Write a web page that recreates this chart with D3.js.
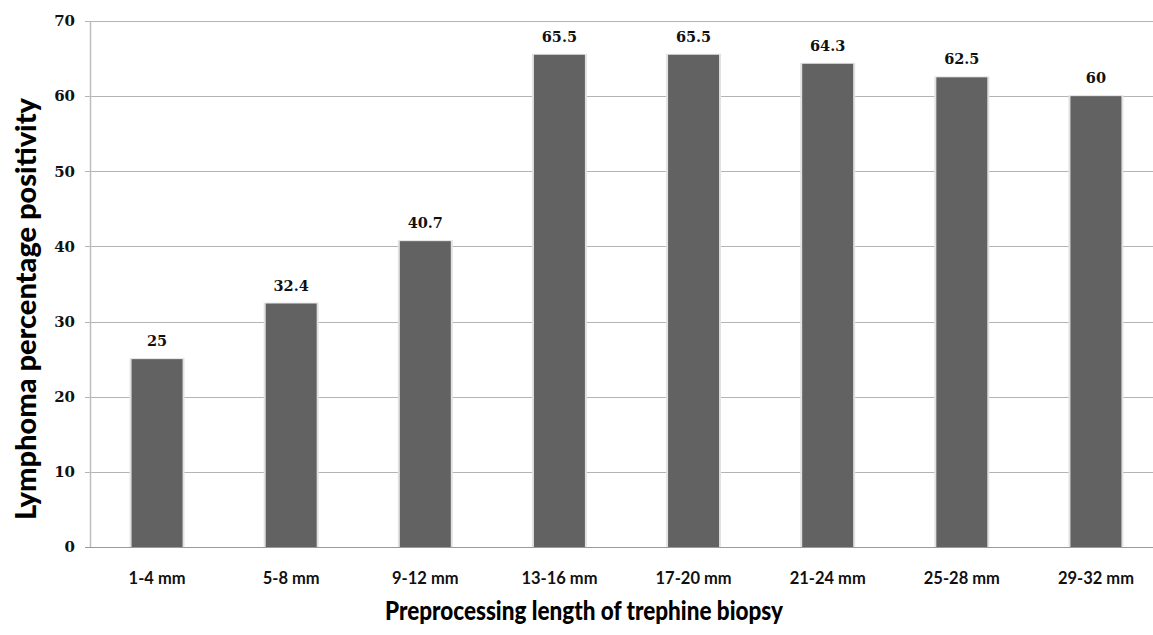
<!DOCTYPE html>
<html>
<head>
<meta charset="utf-8">
<script src="https://cdn.jsdelivr.net/npm/d3@7"></script>
<style>
  body { margin: 0; background: #fff; }
  .tick-label { font-family: "DejaVu Serif", serif; font-weight: bold; font-size: 15px; fill: #111; }
  .value-label { font-family: "DejaVu Serif", serif; font-weight: bold; font-size: 14.5px; fill: #111; }
  .cat-label { font-family: Lato, "Open Sans", sans-serif; font-weight: bold; font-size: 16.5px; fill: #111; }
  .axis-title { font-family: Lato, "Open Sans", sans-serif; font-weight: 900; font-size: 27px; fill: #000; }
  .y-title { font-size: 29px; }
</style>
</head>
<body>
<div id="vis"></div>
<script>
var categories = ["1-4 mm", "5-8 mm", "9-12 mm", "13-16 mm", "17-20 mm", "21-24 mm", "25-28 mm", "29-32 mm"];
var values = [25, 32.4, 40.7, 65.5, 65.5, 64.3, 62.5, 60];
var yTicks = [0, 10, 20, 30, 40, 50, 60, 70];

var width = 1153, height = 635;
var margin = {top: 21, left: 90, bottom: 88};

var svg = d3.select("#vis").append("svg")
  .attr("width", width)
  .attr("height", height);

var x = d3.scaleBand()
  .domain(categories)
  .range([margin.left, 1163])
  .paddingInner(0.62)
  .paddingOuter(0.31);

var y = d3.scaleLinear()
  .domain([0, 70])
  .range([height - margin.bottom, margin.top]);

// gridlines
svg.selectAll(".grid")
  .data(yTicks.filter(function(d) { return d > 0; }))
  .enter().append("line")
  .attr("class", "grid")
  .attr("x1", margin.left - 5)
  .attr("x2", width)
  .attr("y1", function(d) { return Math.round(y(d)) + 0.5; })
  .attr("y2", function(d) { return Math.round(y(d)) + 0.5; })
  .attr("stroke", "#b4b4b4")
  .attr("stroke-width", 1);

// y tick labels
svg.selectAll(".tick-label")
  .data(yTicks)
  .enter().append("text")
  .attr("class", "tick-label")
  .attr("x", margin.left - 15)
  .attr("y", function(d) { return y(d); })
  .attr("dy", "0.35em")
  .attr("text-anchor", "end")
  .text(function(d) { return d; });

// bar halo
svg.selectAll(".bar-halo")
  .data(values)
  .enter().append("rect")
  .attr("class", "bar-halo")
  .attr("x", function(d, i) { return x(categories[i]) - 2; })
  .attr("y", function(d) { return y(d) - 1; })
  .attr("width", x.bandwidth() + 4)
  .attr("height", function(d) { return y(0) - y(d) + 1; })
  .attr("fill", "#e2e2e2");

// bars
svg.selectAll(".bar")
  .data(values)
  .enter().append("rect")
  .attr("class", "bar")
  .attr("x", function(d, i) { return x(categories[i]); })
  .attr("y", function(d) { return y(d); })
  .attr("width", x.bandwidth())
  .attr("height", function(d) { return y(0) - y(d); })
  .attr("fill", "#626262");

// axes lines
svg.append("line")
  .attr("x1", margin.left - 5)
  .attr("x2", width)
  .attr("y1", y(0) + 0.5)
  .attr("y2", y(0) + 0.5)
  .attr("stroke", "#9a9a9a");

svg.append("line")
  .attr("x1", margin.left + 0.5)
  .attr("x2", margin.left + 0.5)
  .attr("y1", y(70))
  .attr("y2", y(0))
  .attr("stroke", "#bdbdbd")
  .attr("stroke-width", 1.5);

// value labels
svg.selectAll(".value-label")
  .data(values)
  .enter().append("text")
  .attr("class", "value-label")
  .attr("x", function(d, i) { return x(categories[i]) + x.bandwidth() / 2; })
  .attr("y", function(d) { return y(d) - 13; })
  .attr("text-anchor", "middle")
  .text(function(d) { return d; });

// category labels
svg.selectAll(".cat-label")
  .data(categories)
  .enter().append("text")
  .attr("class", "cat-label")
  .attr("x", function(d) { return x(d) + x.bandwidth() / 2; })
  .attr("y", 584)
  .attr("text-anchor", "middle")
  .text(function(d) { return d; });

svg.append("text")
  .attr("class", "axis-title")
  .attr("x", 584)
  .attr("y", 620)
  .attr("text-anchor", "middle")
  .attr("textLength", 398)
  .attr("lengthAdjust", "spacingAndGlyphs")
  .text("Preprocessing length of trephine biopsy");

svg.append("text")
  .attr("class", "axis-title y-title")
  .attr("transform", "translate(36,309) rotate(-90)")
  .attr("text-anchor", "middle")
  .text("Lymphoma percentage positivity");
</script>
</body>
</html>
